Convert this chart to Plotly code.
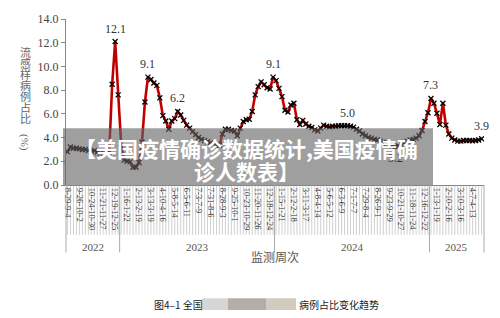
import plotly.graph_objects as go

# ---- data ----
tick_labels = ["8-29-9-4", "9-26-10-2", "10-24-10-30", "11-21-11-27", "12-19-12-25",
               "1-16-1-22", "2-13-2-19", "3-13-3-19", "4-10-4-16", "5-8-5-14", "6-5-6-11",
               "7-3-7-9", "7-31-8-6", "8-28-9-3", "9-25-10-1", "10-23-10-29", "11-20-11-26",
               "12-18-12-24", "1-15-1-21", "2-12-2-18", "3-11-3-17", "4-8-4-14", "5-6-5-12",
               "6-3-6-9", "7-1-7-7", "7-29-8-4", "8-26-9-1", "9-23-9-29", "10-21-10-27",
               "11-18-11-24", "12-16-12-22", "1-13-1-19", "2-10-2-16", "3-10-3-16", "4-7-4-13"]
years = ["2022", "2023", "2024", "2025"]
year_first_week = [0, 18, 70, 122]
ili_pct = [
    2.8, 3.2, 3.1, 3.1, 3.05, 3.0, 3.0, 2.9, 2.85, 2.9,
    2.75, 2.7, 2.7, 2.65, 2.75, 8.5, 12.1, 7.6, 3.5, 2.1,
    2.0, 1.95, 1.5, 1.5, 1.9, 3.6, 7.0, 9.1, 8.9, 8.6,
    8.4, 7.35, 5.85, 5.4, 4.7, 5.4, 5.6, 6.2, 5.9, 5.45,
    5.05, 4.8, 4.5, 4.25, 4.0, 3.85, 3.75, 3.65, 3.55, 3.45,
    3.4, 3.35, 4.3, 4.7, 4.7, 4.6, 4.55, 4.15, 4.8, 5.35,
    5.5, 5.55, 6.2, 7.6, 8.3, 8.7, 8.45, 8.2, 8.1, 9.1,
    8.8, 8.15, 7.45, 6.3, 6.15, 6.75, 6.9, 5.5, 5.1, 5.45,
    5.15, 4.95, 4.85, 4.65, 4.55, 4.8, 5.05, 4.95, 4.9, 4.95,
    4.95, 5.0, 5.0, 5.0, 5.0, 4.95, 4.88, 4.7, 4.55, 4.3,
    4.15, 4.0, 3.95, 3.85, 3.8, 3.7, 3.6, 3.5, 3.4, 3.3,
    3.2, 3.3, 3.45, 3.6, 3.7, 3.8, 3.85, 3.95, 4.15, 4.6,
    5.35, 6.1, 7.3, 6.9, 6.05, 5.1, 6.9, 5.05, 4.3, 3.95,
    3.8, 3.7, 3.7, 3.75, 3.75, 3.75, 3.72, 3.75, 3.8, 3.9,
]
labeled_weeks = [16, 27, 37, 69, 94, 110, 122, 139]
labels_below = [110]

weeks = list(range(len(ili_pct)))
tick_vals = weeks[::4][:len(tick_labels)]

fig = go.Figure()
fig.add_trace(go.Scatter(
    x=weeks, y=ili_pct, mode="lines+markers",
    line=dict(color="#c00000", width=2.6),
    marker=dict(symbol="x-thin", size=5, color="black", line=dict(color="black", width=1.3)),
    hoverinfo="skip", showlegend=False,
))

serif = "Liberation Serif, Times New Roman, serif"
cjk = "Noto Sans CJK SC, sans-serif"

annotations = []
for i in labeled_weeks:
    below = i in labels_below
    annotations.append(dict(x=i, y=ili_pct[i], xref="x", yref="y", text=f"{ili_pct[i]:.1f}",
                            showarrow=False, yshift=-11 if below else 13,
                            xanchor="center", yanchor="middle",
                            font=dict(family=serif, size=12, color="#333")))

# plot geometry helpers (pixels -> paper)
L, R, T, B = 66, 16, 15, 133
W, H = 500, 318
pw, ph = W - L - R, H - T - B
def px(xp):
    return (xp - L) / pw
def py(yp):
    return (H - B - yp) / ph

def note(x, y, text, size, color, family, xref="paper", xanchor="center", **kw):
    annotations.append(dict(x=x, y=y, xref=xref, yref="paper", text=text, showarrow=False,
                            xanchor=xanchor, yanchor="middle",
                            font=dict(family=family, size=size, color=color), **kw))

# year labels
ends = year_first_week[1:] + [len(ili_pct)]
for yr, s, e in zip(years, year_first_week, ends):
    note((s + e - 1) / 2, py(248), yr, 11, "#555", serif, xref="x")

note(px(275), py(258), "监测周次", 12, "#555", cjk)

# y-axis title (vertical)
for k, ch in enumerate("流感样病例占比"):
    note(px(25), py(49 + 11.3 * k), ch, 11, "#666", cjk)
note(px(25), py(141), "(%)", 11, "#666", serif, textangle=90)

# overlay banner text
note(px(246), py(147), "<b>【美国疫情确诊数据统计,美国疫情确</b>", 21, "white", cjk)
note(px(246), py(171), "<b>诊人数表】</b>", 21, "white", cjk)

# caption
note(px(152), py(307), "图4–1 全国", 10, "#222", cjk, xanchor="left")
note(px(297), py(307), "病例占比变化趋势", 10, "#222", cjk, xanchor="left")

shapes = []
# weekly tick lines below axis
for w in weeks:
    shapes.append(dict(type="line", xref="x", yref="paper", x0=w, x1=w, y0=0, y1=py(236),
                       line=dict(color="#c4c4c4", width=0.8), layer="below"))
# year separators
for s in year_first_week[1:]:
    shapes.append(dict(type="line", xref="x", yref="paper", x0=s - 0.5, x1=s - 0.5, y0=0, y1=py(254),
                       line=dict(color="#aaa", width=1)))
for xe in (0, 1):
    shapes.append(dict(type="line", xref="paper", yref="paper", x0=xe, x1=xe, y0=0, y1=py(254),
                       line=dict(color="#aaa", width=1)))
# gray banner
shapes.append(dict(type="rect", xref="paper", yref="paper", x0=px(63), x1=px(433), y0=0, y1=py(127),
                   fillcolor="rgba(100,100,100,0.62)", line=dict(width=0), layer="above"))
# blurred caption patch
for x0, x1, c in [(202, 228, "#d6d6d6"), (228, 266, "#b3aea8"), (266, 296, "#d3cbbf")]:
    shapes.append(dict(type="rect", xref="paper", yref="paper", x0=px(x0), x1=px(x1),
                       y0=py(313), y1=py(301), fillcolor=c, line=dict(width=0)))

fig.update_layout(
    width=W, height=H, margin=dict(l=L, r=R, t=T, b=B),
    paper_bgcolor="white", plot_bgcolor="white",
    annotations=annotations, shapes=shapes,
    xaxis=dict(range=[-0.5, 139.8], tickvals=tick_vals, ticktext=tick_labels, tickangle=90,
               ticks="", showgrid=False, zeroline=False, showline=True, linecolor="#888",
               tickfont=dict(family=serif, size=8.5, color="#333")),
    yaxis=dict(range=[0, 14], dtick=2, tickformat=".1f", ticks="outside", ticklen=4,
               tickcolor="#888", showgrid=False, zeroline=False, showline=True, linecolor="#888",
               tickfont=dict(family=serif, size=12, color="#444")),
)

fig.write_html("out.html")
